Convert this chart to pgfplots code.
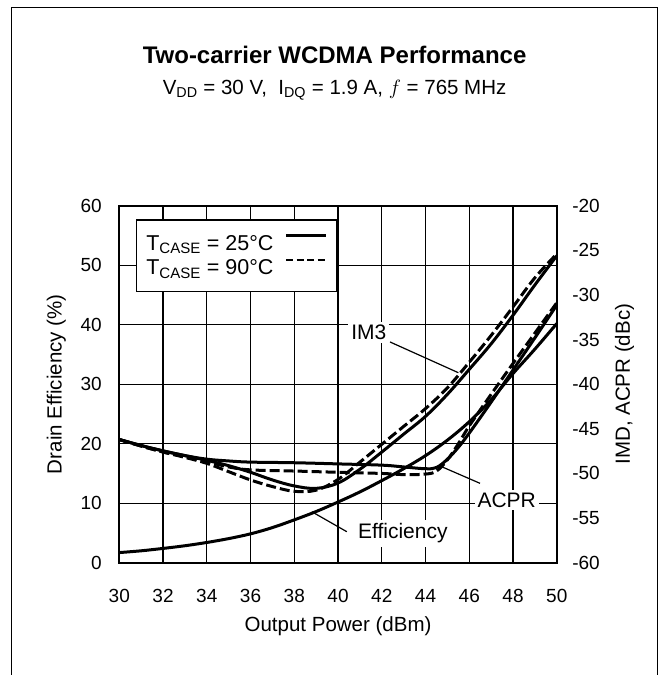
\documentclass[border=0pt]{standalone}
\usepackage{fontspec}
\setmainfont{Liberation Sans}
\usepackage{pgfplots}
\pgfplotsset{compat=1.18}

\begin{document}
\begin{tikzpicture}[x=1pt,y=1pt]
\useasboundingbox (0,0) rectangle (666,675);
\draw[line width=1.2pt] (11.7,0) -- (11.7,667.6) -- (657.5,667.6) -- (657.5,0);
\node[font=\fontsize{24}{28}\selectfont\bfseries, anchor=base] at (334.6,611) {Two-carrier WCDMA Performance};
\node[font=\fontsize{20.5}{24}\selectfont, anchor=base] at (334.6,580.5) {V\textsubscript{DD} = 30 V,\ \ I\textsubscript{DQ} = 1.9 A, $f$ = 765 MHz};

\begin{axis}[
  at={(119.3pt,112.3pt)}, anchor=south west, scale only axis,
  width=437.5pt, height=357pt,
  xmin=30, xmax=50, ymin=0, ymax=60,
  xtick={30,32,...,50}, ytick={0,10,...,60},
  grid=major, major grid style={black, line width=1.2pt},
  axis line style={line width=2pt}, major tick length=0pt,
  /pgf/number format/assume math mode=true,
  ticklabel style={font=\fontsize{19}{22}\selectfont},
  xticklabel style={yshift=-23pt},
  yticklabel style={xshift=-14pt},
  xlabel={Output Power (dBm)}, ylabel={Drain Efficiency (\%)},
  label style={font=\fontsize{20.5}{24}\selectfont},
  xlabel style={at={(axis description cs:0.5,-0.179)}, anchor=center},
  ylabel style={at={(axis description cs:-0.1438,0.5)}, anchor=center, rotate=0},
  legend plot pos=right, legend cell align=left,
  legend image code/.code={\draw[#1] (0pt,8pt) -- (40pt,8pt);},
  legend style={at={(axis description cs:0.0375,0.962)}, anchor=north west,
    draw=black, line width=1.3pt, fill=white,
    font=\fontsize{21.5}{25}\selectfont, inner xsep=9pt, inner ysep=14pt,
    row sep=6pt, column sep=10pt, nodes={inner sep=1pt}},
]
\addlegendimage{black, line width=3pt}
\addlegendentry{T\textsubscript{CASE} = 25°C}
\addlegendimage{black, line width=1.6pt, dash pattern=on 7pt off 3.5pt}
\addlegendentry{T\textsubscript{CASE} = 90°C}

% Drain efficiency (%)
\addplot[forget plot, black, line width=3pt, smooth, tension=0.6] table {
30 1.7
31 2.0
32 2.4
33 2.85
34 3.4
35 4.05
36 4.85
37 5.9
38 7.2
39 8.6
40 10.2
41 11.9
42 13.8
43 15.8
44 18.0
45 20.6
46 23.7
47 27.4
48 31.8
49 35.9
50 40.2
};

\node[fill=white, inner sep=3pt, font=\fontsize{21}{24}\selectfont] at (axis cs:41.41,38.69) {IM3};
\draw[line width=1.2pt] (axis cs:42.375,37.1) -- (axis cs:45.5,31.93);
\node[fill=white, inner sep=3pt, font=\fontsize{21}{24}\selectfont] at (axis cs:47.71,10.54) {ACPR};
\draw[line width=1.2pt] (axis cs:44.74,16.13) -- (axis cs:46.49,13.34);
\node[fill=white, inner sep=4pt, font=\fontsize{21}{24}\selectfont] at (axis cs:42.96,4.94) {Efficiency};
\draw[line width=1.2pt] (axis cs:40.40,5.21) -- (axis cs:38.80,8.57);
\end{axis}

\begin{axis}[
  at={(119.3pt,112.3pt)}, anchor=south west, scale only axis,
  width=437.5pt, height=357pt,
  xmin=30, xmax=50, ymin=-60, ymax=-20,
  axis x line=none, axis y line*=right,
  ytick={-60,-55,...,-20}, major tick length=0pt,
  axis line style={line width=2pt, -},
  /pgf/number format/assume math mode=true,
  ticklabel style={font=\fontsize{19}{22}\selectfont},
  yticklabel style={xshift=12pt},
  ylabel={IMD, ACPR (dBc)},
  label style={font=\fontsize{20.5}{24}\selectfont},
  ylabel style={at={(axis description cs:1.1547,0.5)}, anchor=center, rotate=0},
]
% IM3, 25 C
\addplot[black, line width=3pt, smooth, tension=0.6] table {
30 -46.20
31 -46.87
32 -47.47
33 -48.00
34 -48.53
35 -49.13
36 -49.87
37 -50.73
38 -51.40
39 -51.67
40 -51.07
41 -49.53
42 -47.60
43 -45.60
44 -43.60
45 -41.13
46 -38.33
47 -35.47
48 -32.27
49 -28.87
50 -25.60
};
% IM3, 90 C
\addplot[black, line width=3pt, dash pattern=on 10pt off 4pt, smooth, tension=0.6] table {
30 -46.20
31 -46.93
32 -47.60
33 -48.20
34 -48.87
35 -49.80
36 -50.73
37 -51.47
38 -52.00
39 -51.87
40 -50.67
41 -48.73
42 -46.73
43 -44.73
44 -42.73
45 -40.40
46 -37.53
47 -34.53
48 -31.33
49 -28.07
50 -25.40
};
% ACPR, 25 C
\addplot[black, line width=3pt, smooth, tension=0.6] table {
30 -46.20
31 -46.87
32 -47.47
33 -48.00
34 -48.40
35 -48.60
36 -48.73
38 -48.80
40 -48.93
42 -49.07
43 -49.27
44 -49.47
44.5 -49.33
45 -48.40
45.5 -47.07
46 -45.47
47 -42.00
48 -38.40
49 -34.80
50 -31.13
};
% ACPR, 90 C
\addplot[black, line width=3pt, dash pattern=on 10pt off 4pt, smooth, tension=0.6] table {
30 -46.20
31 -46.93
32 -47.60
33 -48.13
34 -48.67
35 -49.27
36 -49.60
38 -49.73
40 -49.87
42 -50.00
43 -50.13
44 -50.07
44.5 -49.73
45 -48.47
45.5 -46.67
46 -44.67
47 -41.13
48 -37.67
49 -34.27
50 -30.87
};
\end{axis}
\end{tikzpicture}
\end{document}
